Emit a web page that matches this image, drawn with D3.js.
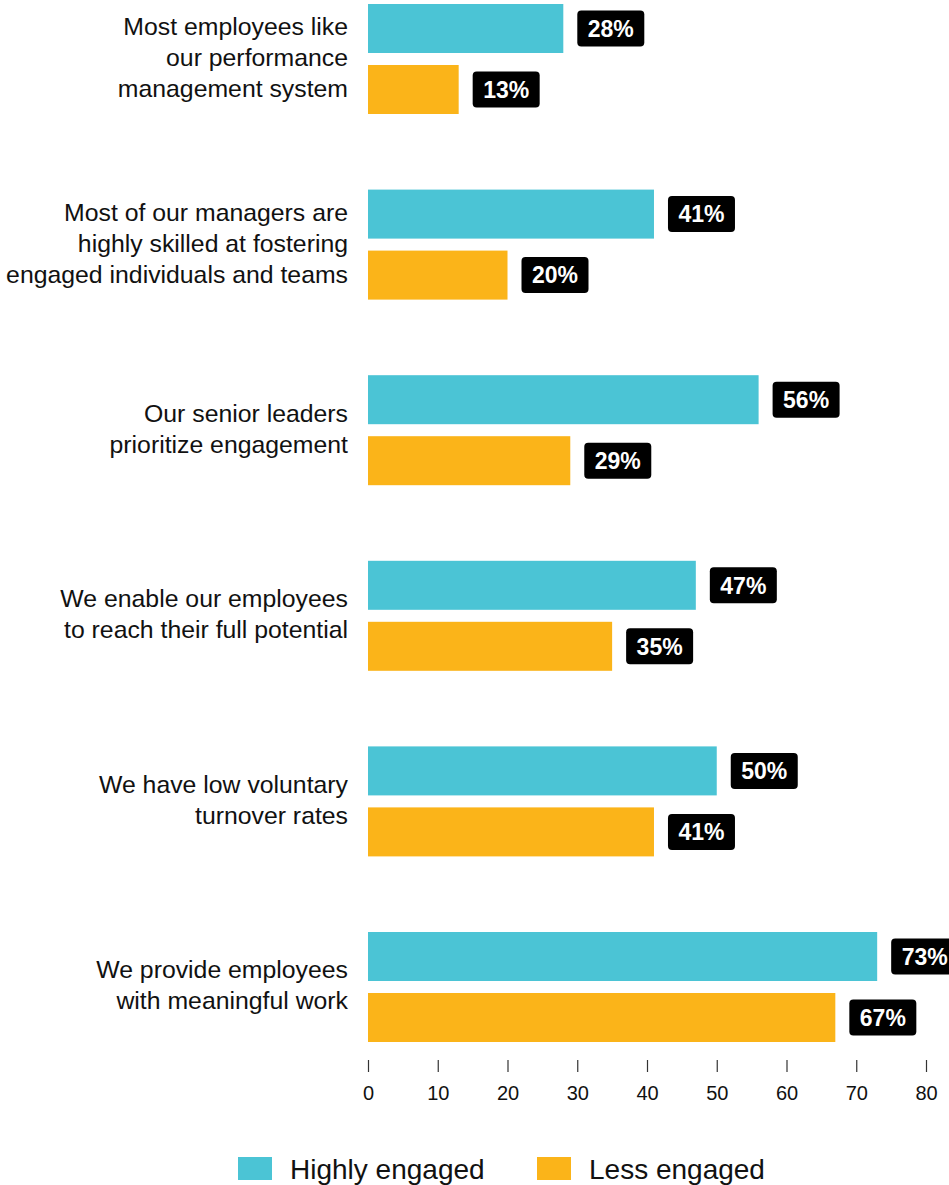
<!DOCTYPE html>
<html>
<head>
<meta charset="utf-8">
<script src="https://cdn.jsdelivr.net/npm/d3@7"></script>
<style>
html,body{margin:0;padding:0;background:#fff;overflow:hidden;}
</style>
</head>
<body>
<svg id="chart" width="949" height="1185"></svg>
<script>
const categories = [
  ["Most employees like","our performance","management system"],
  ["Most of our managers are","highly skilled at fostering","engaged individuals and teams"],
  ["Our senior leaders","prioritize engagement"],
  ["We enable our employees","to reach their full potential"],
  ["We have low voluntary","turnover rates"],
  ["We provide employees","with meaningful work"]
];
const highlyEngaged = [28, 41, 56, 47, 50, 73];
const lessEngaged = [13, 20, 29, 35, 41, 67];
const seriesNames = ["Highly engaged", "Less engaged"];
const tickValues = [0, 10, 20, 30, 40, 50, 60, 70, 80];
const colors = ["#4BC4D5", "#FBB419"];
const FONT = "'Liberation Sans', Arial, Helvetica, sans-serif";

const svg = d3.select("#chart").attr("font-family", FONT);
const x = d3.scaleLinear().domain([0, 80]).range([368, 926]);
const y0 = d3.scaleBand().domain(d3.range(categories.length)).range([4, 4 + 185.6 * 6]).paddingInner(0).paddingOuter(0);
const series = [highlyEngaged, lessEngaged];
const barH = 49, barGap = 12;

categories.forEach((lines, i) => {
  const top = y0(i);
  const g = svg.append("g");
  series.forEach((vals, s) => {
    const by = top + s * (barH + barGap);
    g.append("rect").attr("x", x(0)).attr("y", by).attr("width", x(vals[i]) - x(0)).attr("height", barH).attr("fill", colors[s]);
    const bx = x(vals[i]) + 14;
    const cy = by + barH / 2;
    g.append("rect").attr("x", bx).attr("y", cy - 18).attr("width", 67).attr("height", 36).attr("rx", 4).attr("fill", "#000");
    g.append("text").attr("x", bx + 33.5).attr("y", cy).attr("dy", "0.36em").attr("text-anchor", "middle")
      .attr("font-family", FONT).attr("fill", "#fff").attr("font-weight", "bold").attr("font-size", 23).text(vals[i] + "%");
  });
  const groupCenter = top + (2 * barH + barGap) / 2;
  const lh = 31;
  const startY = groupCenter - 2 - (lines.length - 1) * lh / 2;
  const t = g.append("text").attr("text-anchor", "end").attr("font-family", FONT).attr("font-size", 24.8).attr("fill", "#111");
  lines.forEach((ln, k) => {
    t.append("tspan").attr("x", 348).attr("y", startY + k * lh).attr("dy", "0.36em").text(ln);
  });
});

const axis = d3.axisBottom(x).tickValues(tickValues).tickSize(12).tickPadding(14);
const ag = svg.append("g").attr("transform", "translate(0,1060)").call(axis);
ag.attr("font-family", FONT).attr("font-size", 20);
ag.select(".domain").remove();
ag.selectAll(".tick line").attr("stroke", "#333").attr("stroke-width", 1.2);
ag.selectAll(".tick text").attr("font-size", 20).attr("fill", "#111");

const legendX = [238, 537];
seriesNames.forEach((name, s) => {
  svg.append("rect").attr("x", legendX[s]).attr("y", 1157).attr("width", 34).attr("height", 23).attr("fill", colors[s]);
  svg.append("text").attr("x", legendX[s] + 52).attr("y", 1169).attr("dy", "0.36em").attr("font-family", FONT).attr("font-size", 28).attr("fill", "#111").text(name);
});
</script>
</body>
</html>
